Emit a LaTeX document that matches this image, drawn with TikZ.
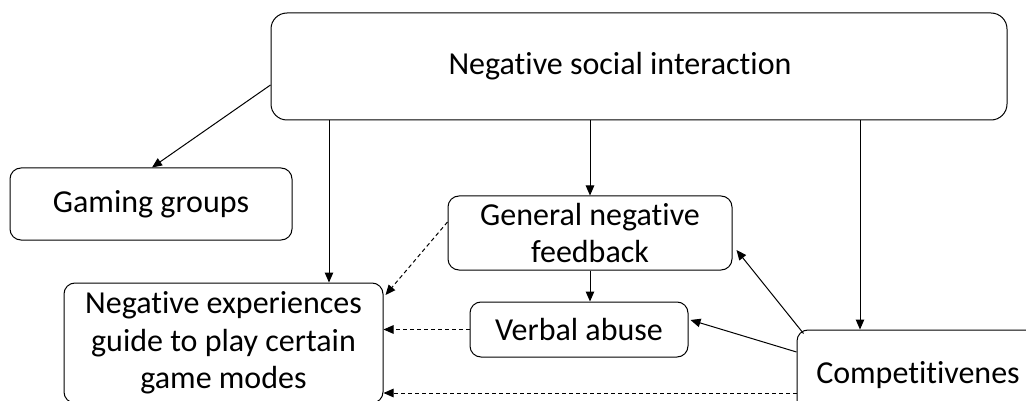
\documentclass[tikz,border=0pt]{standalone}
\usepackage{fontspec}
\setmainfont{Carlito}[Ligatures=NoCommon]
\usetikzlibrary{arrows.meta}
\begin{document}
\begin{tikzpicture}[x=1pt,y=-1pt,
  box/.style={draw,line width=1pt,rounded corners=11pt,align=center,inner sep=0pt,
    font=\fontsize{32}{37.5}\selectfont},
  arr/.style={line width=1pt,-{Triangle[length=10pt,width=8.5pt]}},
  darr/.style={arr,dash pattern=on 4pt off 3pt}]
\useasboundingbox (0,0) rectangle (1026,401);
\clip (0,0) rectangle (1026,401);
\fill[white] (0,0) rectangle (1026,401);
\node[box,rounded corners=16pt,minimum width=736pt,minimum height=107pt] (top) at (639,66.5) {\hspace*{-38pt}Negative social interaction};
\node[box,minimum width=282pt,minimum height=72pt] (gaming) at (151,204) {Gaming groups};
\node[box,minimum width=284pt,minimum height=74pt] (gnf) at (590,233) {General negative\\feedback};
\node[box,minimum width=218pt,minimum height=55pt] (verbal) at (579,329.5) {Verbal abuse};
\node[box,minimum width=319pt,minimum height=120pt] (negexp) at (223.5,343) {Negative experiences\\guide to play certain\\game modes};
\node[box,minimum width=242pt,minimum height=90pt] (comp) at (918,375) {Competitivenes};
\coordinate (compdash) at ([yshift=-18pt]comp.west);
% connectors
\draw[arr] ([yshift=-18.5pt]top.west) -- ([xshift=1pt]gaming.north);
\draw[arr] ([xshift=-310pt]top.south) -- ([xshift=-310pt]top.south |- negexp.north);
\draw[arr] (top.south -| gnf.north) -- (gnf.north);
\draw[arr] ([xshift=221pt]top.south) -- ([xshift=221pt]top.south |- comp.north);
\draw[arr] (gnf.south) -- (gnf.south |- verbal.north);
\draw[darr] ([yshift=11pt]gnf.west) -- ([xshift=2pt,yshift=48pt]negexp.east);
\draw[darr] (verbal.west) -- (negexp.east |- verbal.west);
\draw[darr] (compdash) -- (negexp.east |- compdash);
\draw[arr] ([xshift=7pt,yshift=-4pt]comp.north west) -- ([xshift=4pt,yshift=-17pt]gnf.east);
\draw[arr] ([yshift=23pt]comp.west) -- ([xshift=2pt,yshift=9.5pt]verbal.east);
\end{tikzpicture}
\end{document}
